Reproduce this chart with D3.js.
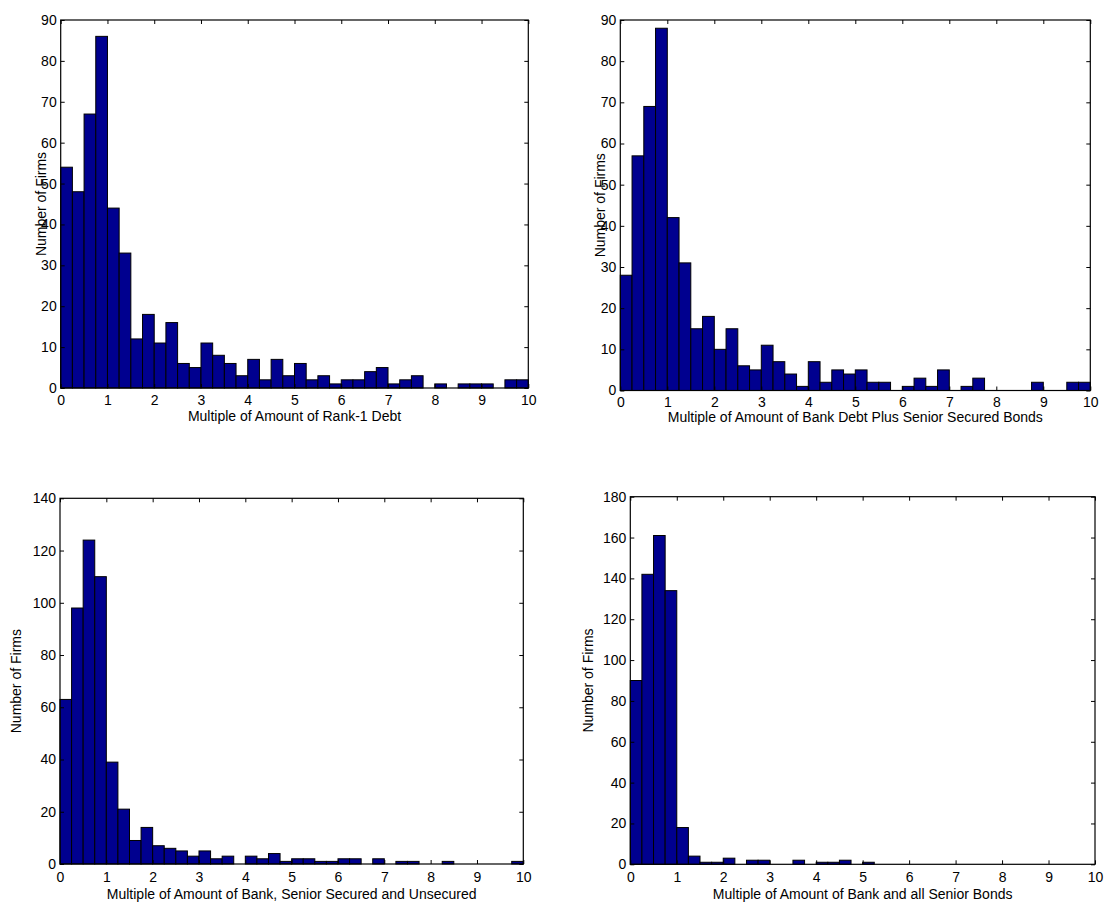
<!DOCTYPE html>
<html>
<head>
<meta charset="utf-8">
<script src="https://cdn.jsdelivr.net/npm/d3@7"></script>
<style>
  body { margin: 0; background: #fff; }
  svg { display: block; font-family: "Liberation Sans", Arial, Helvetica, sans-serif; }
  .tick text { font-size: 14px; fill: #000; }
  .tick line { stroke: #000; }
</style>
</head>
<body>
<svg id="chart" width="1106" height="905"></svg>
<script>
// ---- data: counts per bin (bin width 0.25, 0 to 10) ----
const binEdges = d3.range(0, 10.0001, 0.25);
const xTicks = [0, 1, 2, 3, 4, 5, 6, 7, 8, 9, 10];

const rank1Counts = [54,48,67,86,44,33,12,18,11,16,6,5,11,8,6,3,7,2,7,3,
                     6,2,3,1,2,2,4,5,1,2,3,0,1,0,1,1,1,0,2,2];
const bankSeniorSecuredCounts = [28,57,69,88,42,31,15,18,10,15,6,5,11,7,4,1,7,2,5,4,
                                 5,2,2,0,1,3,1,5,0,1,3,0,0,0,0,2,0,0,2,2];
const bankSecUnsecCounts = [63,98,124,110,39,21,9,14,7,6,5,3,5,2,3,0,3,2,4,1,
                            2,2,1,1,2,2,0,2,0,1,1,0,0,1,0,0,0,0,0,1];
const bankAllSeniorCounts = [90,142,161,134,18,4,1,1,3,0,2,2,0,0,2,0,1,1,2,0,
                             1,0,0,0,0,0,0,0,0,0,0,0,0,0,0,0,0,0,0,0];

const yTicksTop = d3.range(0, 91, 10);
const yTicksBL = d3.range(0, 141, 20);
const yTicksBR = d3.range(0, 181, 20);

const xLabels = [
  "Multiple of Amount of Rank-1 Debt",
  "Multiple of Amount of Bank Debt Plus Senior Secured Bonds",
  "Multiple of Amount of Bank, Senior Secured and Unsecured",
  "Multiple of Amount of Bank and all Senior Bonds"
];
const yLabel = "Number of Firms";

// ---- layout ----
const panels = [
  { counts: rank1Counts, yTicks: yTicksTop, xlabel: xLabels[0],
    l: 60.7, r: 528.3, t: 20, b: 388, pad: 7, xlabY: 421, ylabX: 46 },
  { counts: bankSeniorSecuredCounts, yTicks: yTicksTop, xlabel: xLabels[1],
    l: 620.3, r: 1090.3, t: 20, b: 390.5, pad: 7, xlabY: 422, ylabX: 605 },
  { counts: bankSecUnsecCounts, yTicks: yTicksBL, xlabel: xLabels[2],
    l: 60, r: 523.3, t: 498.3, b: 864, pad: 8, xlabY: 899, ylabX: 21 },
  { counts: bankAllSeniorCounts, yTicks: yTicksBR, xlabel: xLabels[3],
    l: 630.3, r: 1095, t: 496.7, b: 864.3, pad: 8, xlabY: 899, ylabX: 593 }
];

const svg = d3.select("#chart");
const barFill = "#00008F";

panels.forEach(p => {
  const x = d3.scaleLinear().domain([0, 10]).range([p.l, p.r]);
  const y = d3.scaleLinear().domain([0, d3.max(p.yTicks)]).range([p.b, p.t]);
  const g = svg.append("g");

  const bins = p.counts.map((c, i) => ({ x0: binEdges[i], x1: binEdges[i + 1], c }));

  g.selectAll("rect.bar")
    .data(bins.filter(d => d.c > 0))
    .join("rect")
    .attr("class", "bar")
    .attr("x", d => x(d.x0))
    .attr("width", d => x(d.x1) - x(d.x0))
    .attr("y", d => y(d.c))
    .attr("height", d => y(0) - y(d.c))
    .attr("fill", barFill)
    .attr("stroke", "#000")
    .attr("stroke-width", 1);

  // axes with inward ticks
  const axB = g.append("g").attr("transform", `translate(0,${p.b})`)
    .call(d3.axisBottom(x).tickValues(xTicks).tickSizeInner(-4).tickSizeOuter(0).tickPadding(p.pad).tickFormat(d3.format("d")));
  const axT = g.append("g").attr("transform", `translate(0,${p.t})`)
    .call(d3.axisTop(x).tickValues(xTicks).tickSizeInner(-4).tickSizeOuter(0).tickFormat(""));
  const axL = g.append("g").attr("transform", `translate(${p.l},0)`)
    .call(d3.axisLeft(y).tickValues(p.yTicks).tickSizeInner(-4).tickSizeOuter(0).tickPadding(4).tickFormat(d3.format("d")));
  const axR = g.append("g").attr("transform", `translate(${p.r},0)`)
    .call(d3.axisRight(y).tickValues(p.yTicks).tickSizeInner(-4).tickSizeOuter(0).tickFormat(""));
  [axB, axT, axL, axR].forEach(a => {
    a.select(".domain").remove();
    a.attr("font-family", null).attr("font-size", null);
  });

  // frame
  g.append("rect")
    .attr("x", p.l).attr("y", p.t)
    .attr("width", p.r - p.l).attr("height", p.b - p.t)
    .attr("fill", "none").attr("stroke", "#000").attr("stroke-width", 1.2);

  // axis labels
  g.append("text")
    .attr("x", (p.l + p.r) / 2).attr("y", p.xlabY)
    .attr("text-anchor", "middle").attr("font-size", 14)
    .text(p.xlabel);
  g.append("text")
    .attr("transform", `translate(${p.ylabX},${(p.t + p.b) / 2}) rotate(-90)`)
    .attr("text-anchor", "middle").attr("font-size", 14)
    .text(yLabel);
});
</script>
</body>
</html>
